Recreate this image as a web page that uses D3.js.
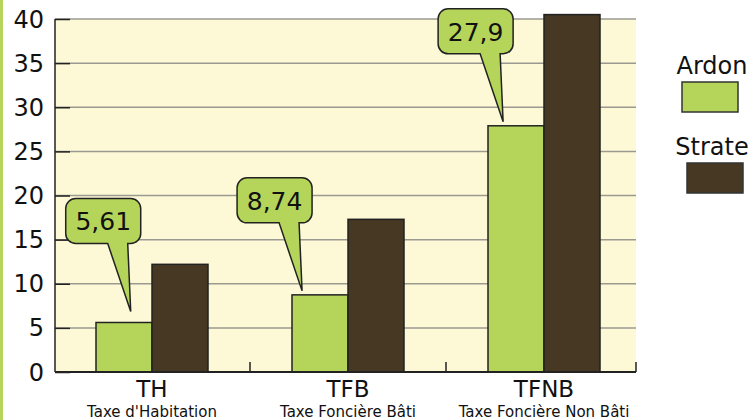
<meta charset="utf-8">
<body style="margin:0;background:#fff">
</body>
<script src="https://cdnjs.cloudflare.com/ajax/libs/d3/7.8.5/d3.min.js"></script>
<script>
// taux d'imposition : Ardon vs moyenne de la strate
var codes = ["TH", "TFB", "TFNB"];
var labels = ["Taxe d'Habitation", "Taxe Foncière Bâti", "Taxe Foncière Non Bâti"];
var ardon = [5.61, 8.74, 27.9];
var strate = [12.2, 17.3, 40.5];
var ardonText = ["5,61", "8,74", "27,9"];
var yTicks = [0, 5, 10, 15, 20, 25, 30, 35, 40];
var series = ["Ardon", "Strate"];

var green = "#b5d55a", brown = "#463823";
// where the bubble tail lands on the green bar (fraction of width, gap above)
var tipFrac = [0.62, 0.18, 0.27], tipGap = [11, 4, 4];

var svg = d3.select("body")
  .append("svg")
  .attr("width", 750)
  .attr("height", 420)
  .style("font-family", "'DejaVu Sans', sans-serif");

var pLeft = 55, pRight = 636, pTop = 19, pBottom = 372;

var x = d3.scaleBand().domain(codes).range([54, 642]);
var y = d3.scaleLinear().domain([0, 40]).range([pBottom, pTop]);
var bw = 56;

// bande verte à gauche
svg.append("rect").attr("x", 0).attr("y", 0).attr("width", 3).attr("height", 420).attr("fill", green);

svg.append("rect")
  .attr("x", pLeft).attr("y", pTop)
  .attr("width", pRight - pLeft).attr("height", pBottom - pTop)
  .attr("fill", "#fdf9d6");

// grille
svg.selectAll(".grid")
  .data(yTicks.slice(1))
  .enter().append("line")
  .attr("x1", pLeft).attr("x2", pRight)
  .attr("y1", function(d) { return y(d); })
  .attr("y2", function(d) { return y(d); })
  .attr("stroke", "#9a9a90").attr("stroke-width", 1.5);

var yAxis = svg.append("g")
  .attr("transform", "translate(" + pLeft + ",0)")
  .call(d3.axisRight(y).tickValues(yTicks).tickSize(15).tickFormat(""));
yAxis.select(".domain").remove();
yAxis.selectAll("line").attr("stroke", "#222").attr("stroke-width", 1.5);

svg.selectAll(".ylab")
  .data(yTicks)
  .enter().append("text")
  .attr("x", 44)
  .attr("y", function(d) { return y(d) + 8.5; })
  .attr("text-anchor", "end")
  .attr("font-size", 24)
  .attr("fill", "#111")
  .text(String);

// barres
var g = svg.selectAll(".cat")
  .data(codes)
  .enter().append("g");

g.append("rect")
  .attr("x", function(d) { return x(d) + x.bandwidth() / 2 - bw; })
  .attr("y", function(d, i) { return y(ardon[i]); })
  .attr("width", bw)
  .attr("height", function(d, i) { return pBottom - y(ardon[i]); })
  .attr("fill", green).attr("stroke", "#222").attr("stroke-width", 1.5);

g.append("rect")
  .attr("x", function(d) { return x(d) + x.bandwidth() / 2; })
  .attr("y", function(d, i) { return y(strate[i]); })
  .attr("width", bw)
  .attr("height", function(d, i) { return pBottom - y(strate[i]); })
  .attr("fill", brown).attr("stroke", "#222").attr("stroke-width", 1.5);

// axes
svg.append("line").attr("x1", pLeft).attr("x2", pLeft).attr("y1", pTop).attr("y2", pBottom)
  .attr("stroke", "#222").attr("stroke-width", 1.5);
svg.append("line").attr("x1", pLeft).attr("x2", pRight).attr("y1", pBottom).attr("y2", pBottom)
  .attr("stroke", "#222").attr("stroke-width", 2);
var xt = codes.slice(1).map(function(d) { return x(d); }).concat([pRight]);
svg.selectAll(".xt")
  .data(xt)
  .enter().append("line")
  .attr("x1", function(d) { return d; }).attr("x2", function(d) { return d; })
  .attr("y1", pBottom - 10).attr("y2", pBottom)
  .attr("stroke", "#222").attr("stroke-width", 1.5);

g.append("text")
  .attr("x", function(d) { return x(d) + x.bandwidth() / 2; })
  .attr("y", 397)
  .attr("text-anchor", "middle")
  .attr("font-size", 23)
  .attr("fill", "#111")
  .text(String);

g.append("text")
  .attr("x", function(d) { return x(d) + x.bandwidth() / 2; })
  .attr("y", 416.5)
  .attr("text-anchor", "middle")
  .attr("font-size", 15)
  .attr("fill", "#111")
  .text(function(d, i) { return labels[i]; });

// bulles
function bubble(tx, ty) {
  var l = tx - 65, t = ty - 113, w = 75, h = 45, r = 10;
  var p = d3.path();
  p.moveTo(l + r, t);
  p.lineTo(l + w - r, t);
  p.arcTo(l + w, t, l + w, t + r, r);
  p.lineTo(l + w, t + h - r);
  p.arcTo(l + w, t + h, l + w - r, t + h, r);
  p.lineTo(l + 62, t + h);
  p.lineTo(tx, ty);
  p.lineTo(l + 42, t + h);
  p.lineTo(l + r, t + h);
  p.arcTo(l, t + h, l, t + h - r, r);
  p.lineTo(l, t + r);
  p.arcTo(l, t, l + r, t, r);
  p.closePath();
  return p.toString();
}

g.each(function(d, i) {
  var tx = x(d) + x.bandwidth() / 2 - bw + bw * tipFrac[i];
  var ty = y(ardon[i]) - tipGap[i];
  var b = d3.select(this);
  b.append("path")
    .attr("d", bubble(tx, ty))
    .attr("fill", green).attr("stroke", "#222").attr("stroke-width", 1.5);
  b.append("text")
    .attr("x", tx - 65 + 37.5)
    .attr("y", ty - 113 + 32)
    .attr("text-anchor", "middle")
    .attr("font-size", 25)
    .attr("fill", "#111")
    .text(ardonText[i]);
});

// légende
var leg = svg.selectAll(".leg")
  .data(series)
  .enter().append("g")
  .attr("transform", function(d, i) { return "translate(0," + (i * 81) + ")"; });
leg.append("text")
  .attr("x", 712).attr("y", 74)
  .attr("text-anchor", "middle")
  .attr("font-size", 24)
  .attr("fill", "#111")
  .text(String);
leg.append("rect")
  .attr("x", function(d, i) { return i ? 687 : 682; })
  .attr("y", 82)
  .attr("width", 56).attr("height", 30)
  .attr("fill", function(d, i) { return i ? brown : green; })
  .attr("stroke", "#333").attr("stroke-width", 1.5);
</script>
